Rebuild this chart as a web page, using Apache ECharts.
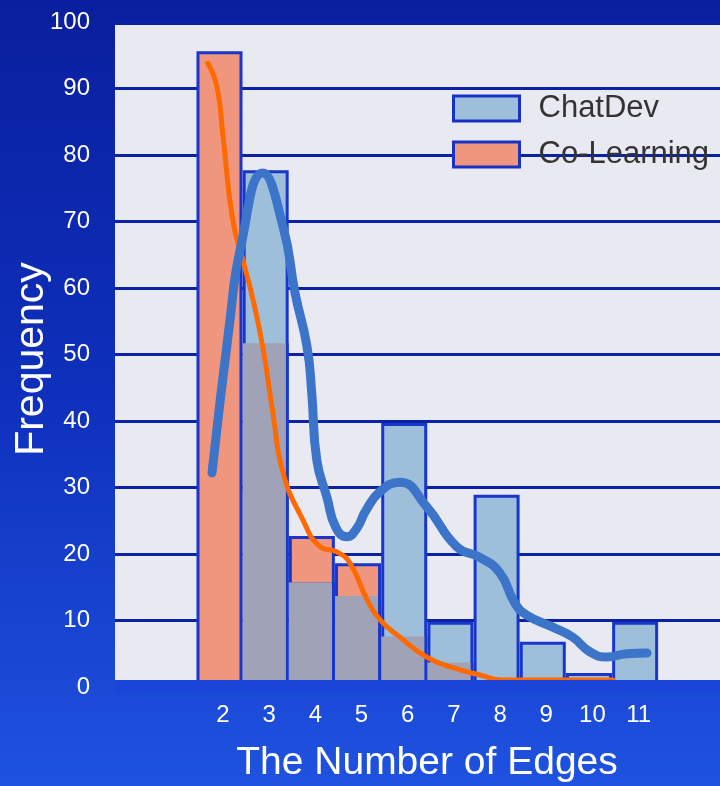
<!DOCTYPE html>
<html>
<head>
<meta charset="utf-8">
<script src="https://cdn.jsdelivr.net/npm/echarts@6/dist/echarts.min.js"></script>
<style>
  html, body { margin: 0; padding: 0; }
  #statistics { width: 720px; height: 786px; }
</style>
</head>
<body>
<div id="statistics"></div>
<script>
// 柱状数据 (边数 2..11)
var edges = [2, 3, 4, 5, 6, 7, 8, 9, 10, 11];
var chatDev = [0, 77.7, 15.7, 13.7, 39.7, 9.8, 28.9, 6.8, 2.1, 9.8];
var coLearning = [95.6, 51.7, 22.7, 18.6, 7.6, 3.7, 1.0, 0.5, 0.5, 0];
var yTicks = [0, 10, 20, 30, 40, 50, 60, 70, 80, 90, 100];

// 密度曲线 [边数, 频数]
var chatDevCurve = [
    [1.87, 32.2], [2.26, 55.2], [2.48, 65.7], [2.97, 77.3], [3.41, 69.2],
    [3.67, 59.2], [3.93, 51.1], [4.03, 44.2], [4.14, 34.1], [4.36, 28.5],
    [4.55, 24.0], [4.79, 22.6], [5.0, 23.8], [5.2, 26.5], [5.51, 29.4],
    [5.94, 30.8], [6.52, 27.1], [7.17, 21.1], [7.67, 19.5], [8.10, 17.2],
    [8.43, 12.6], [8.69, 10.8], [9.25, 9.0], [9.68, 7.5], [10.05, 5.3],
    [10.42, 4.5], [10.85, 5.0], [11.29, 5.1]
];
var coLearningCurve = [
    [1.78, 93.8], [1.98, 90.2], [2.11, 82.7], [2.32, 70.2], [2.54, 64.2],
    [2.76, 58.2], [2.97, 51.1], [3.19, 41.2], [3.41, 32.2], [3.84, 25.1],
    [4.21, 21.1], [4.58, 20.3], [4.86, 18.6], [5.23, 13.1], [5.51, 10.1],
    [5.94, 7.5], [6.52, 4.5], [7.09, 2.9], [7.67, 1.8], [8.17, 1.05],
    [9.4, 1.05], [10.55, 1.05]
];

var myChart = echarts.init(document.getElementById('statistics'));

function pairs(vals) {
    return edges.map(function (e, i) { return [e, vals[i]]; });
}
var overlap = edges.map(function (e, i) { return [e, Math.min(chatDev[i], coLearning[i])]; });

var option = {
    backgroundColor: new echarts.graphic.LinearGradient(0, 0, 0, 1, [
        {offset: 0, color: '#0a1f9e'},
        {offset: 0.5, color: '#0e30bc'},
        {offset: 1, color: '#1f52e0'}
    ]),
    textStyle: {fontFamily: 'Liberation Sans, Arial, sans-serif'},
    animation: false,
    graphic: [
        {type: 'rect', z: -10, silent: true, shape: {x: 115, y: 25, width: 605, height: 655}, style: {fill: '#e9e9f2'}},
        {type: 'rect', z: 100, silent: true, shape: {x: 115, y: 680, width: 605, height: 12}, style: {fill: '#1a45d8'}},
        {type: 'text', x: 427, y: 763, style: {text: 'The Number of Edges', fill: '#ffffff', fontSize: 39, textAlign: 'center', textVerticalAlign: 'middle', fontFamily: 'Liberation Sans'}},
        {type: 'text', x: 32, y: 359, rotation: Math.PI / 2, style: {text: 'Frequency', fill: '#ffffff', fontSize: 41, textAlign: 'center', textVerticalAlign: 'middle', fontFamily: 'Liberation Sans'}}
    ],
    legend: {
        data: [{name: 'ChatDev', icon: 'rect'}, {name: 'Co-Learning', icon: 'rect'}],
        orient: 'vertical',
        left: 447,
        top: 88,
        itemWidth: 66,
        itemHeight: 25,
        itemGap: 15,
        itemStyle: {borderColor: '#1732c4', borderWidth: 3},
        textStyle: {color: '#333333', fontSize: 31, lineHeight: 30, padding: [0, 0, 0, 14]}
    },
    grid: {left: 115, right: 0, top: 22, bottom: 99},
    xAxis: {
        type: 'value',
        min: -0.23,
        max: 12.87,
        axisLine: {show: false},
        axisTick: {show: false},
        splitLine: {show: false},
        axisLabel: {
            customValues: edges,
            color: '#ffffff',
            fontSize: 24,
            margin: 16,
            padding: [0, 0, 0, 10]
        }
    },
    yAxis: {
        type: 'value',
        min: 0,
        max: 100,
        interval: 10,
        axisLine: {show: false},
        axisTick: {show: false},
        axisLabel: {color: '#ffffff', fontSize: 24, margin: 25},
        splitLine: {lineStyle: {color: '#0b22a6', width: 3}}
    },
    series: [
        {
            name: 'Co-Learning',
            type: 'bar',
            barWidth: 46,
            barGap: '-100%',
            itemStyle: {color: '#f0957e', borderColor: '#1836cc', borderWidth: 3},
            data: pairs(coLearning)
        },
        {
            name: 'ChatDev',
            type: 'bar',
            barWidth: 46,
            barGap: '-100%',
            itemStyle: {color: '#9dbfda', borderColor: '#1836cc', borderWidth: 3},
            data: pairs(chatDev)
        },
        {
            name: 'overlap',
            type: 'bar',
            barWidth: 43,
            barGap: '-100%',
            itemStyle: {color: '#a0a3b7'},
            data: overlap
        },
        {
            name: 'Co-Learning KDE',
            type: 'line',
            smooth: 0.5,
            showSymbol: false,
            lineStyle: {color: '#ff6a00', width: 5, cap: 'round'},
            data: coLearningCurve
        },
        {
            name: 'ChatDev KDE',
            type: 'line',
            smooth: 0.5,
            showSymbol: false,
            lineStyle: {color: '#3b74c9', width: 9, cap: 'round'},
            data: chatDevCurve
        }
    ]
};

myChart.setOption(option);
</script>
</body>
</html>
